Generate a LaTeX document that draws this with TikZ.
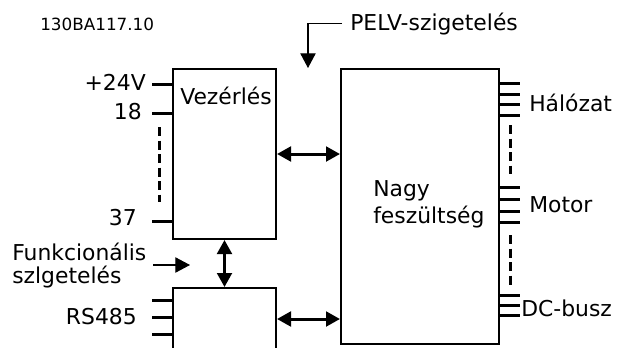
\documentclass[tikz,border=0pt]{standalone}
\usepackage{fontspec}
\setmainfont{DejaVu Sans}
\usepackage{tikz}
\usetikzlibrary{arrows.meta,calc}

\begin{document}
\begin{tikzpicture}[x=0.75pt, y=-0.75pt,
  box/.style={draw, line width=1.5pt, inner sep=0pt},
  lbl/.style={inner sep=0pt, font=\fontsize{16.4}{19}\selectfont},
  term/.style={line width=2.25pt},
  dashline/.style={line width=2.25pt, dash pattern=on 6.75pt off 3.4pt},
  dbl/.style={{Triangle[length=10.5pt,width=11pt]}-{Triangle[length=10.5pt,width=11pt]}, line width=2.25pt},
  thinarrow/.style={-{Triangle[length=11pt,width=11.5pt]}, line width=0.8pt}]
  \clip (0,0) rectangle (625,347);

  % boxes
  \node[box, minimum width=77.25pt, minimum height=127.5pt] (ctl) at (224.5,154) {};
  \node[box, minimum width=77.25pt, minimum height=46.5pt] (rs) at (224.5,319) {};
  \node[box, minimum width=118.5pt, minimum height=206.25pt] (hv) at (420,206.5) {};

  % texts
  \node[lbl, font=\fontsize{12.6}{15}\selectfont, anchor=base west] (code) at (40,30) {130BA117.10};
  \node[lbl, anchor=base west] (pelv) at (350,30.3) {PELV-szigetelés};
  \node[lbl, anchor=base west] (ctltxt) at (180,104) {Vezérlés};
  \node[lbl, anchor=base west] (hvtxt1) at (373,196.7) {Nagy};
  \node[lbl, anchor=base west] (hvtxt2) at (373,223.3) {feszültség};
  \node[lbl, anchor=base east] (v24) at (146,90.7) {+24V};
  \node[lbl, anchor=base east] (t18) at (142,119) {18};
  \node[lbl, anchor=base east] (t37) at (137,225) {37};
  \node[lbl, anchor=base east] (rstxt) at (137,324) {RS485};
  \node[lbl, anchor=base west] (func1) at (12,260.7) {Funkcionális};
  \node[lbl, anchor=base west] (func2) at (12,283) {szlgetelés};
  \node[lbl, anchor=base west] (mains) at (529,111.3) {Hálózat};
  \node[lbl, anchor=base west] (motor) at (529,212.3) {Motor};
  \node[lbl, anchor=base west] (dcbus) at (521,316.7) {DC-busz};

  % terminals left
  \foreach \y in {84,113,221,300,317.7,334}
    \draw[term] (ctl.west |- 0,\y) -- ++(-20,0);
  \draw[dashline] (159,127) -- (159,202);

  % terminals right
  \foreach \y in {83.3,94,104.3,115,187.3,199.3,211.3,222.7,295.7,305,315}
    \draw[term] (hv.east |- 0,\y) -- ++(20,0);
  \draw[dashline] (510.7,125) -- (510.7,174);
  \draw[dashline] (510.7,235) -- (510.7,285);

  % connections
  \draw[dbl] (ctl.east) -- (hv.west |- ctl.east);
  \draw[dbl] (rs.east) -- (hv.west |- rs.east);
  \draw[dbl] (ctl.south) -- (rs.north);

  % isolation markers
  \coordinate (pelvtip) at (308,68);
  \draw[thinarrow] ($(pelv.west)+(-8,-0.5)$) -| (pelvtip);
  \coordinate (funcstart) at (153,265);
  \coordinate (functip) at (190,265);
  \draw[thinarrow] (funcstart) -- (functip);
\end{tikzpicture}
\end{document}
